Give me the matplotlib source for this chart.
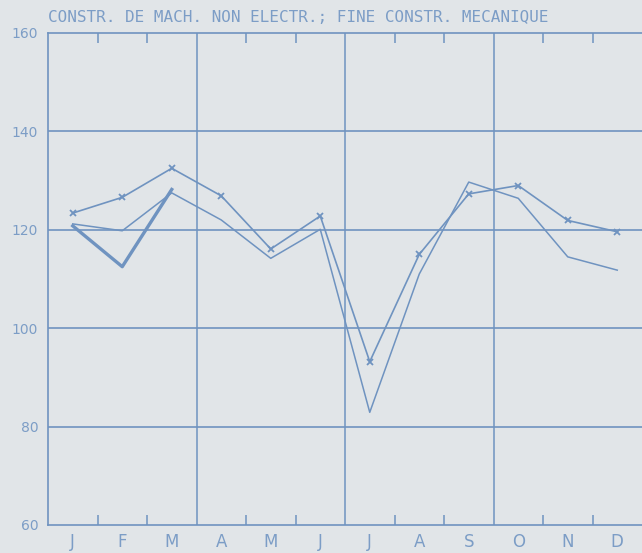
import matplotlib
matplotlib.use("Agg")
import matplotlib.pyplot as plt

months = ['J', 'F', 'M', 'A', 'M', 'J', 'J', 'A', 'S', 'O', 'N', 'D']
title = 'CONSTR. DE MACH. NON ELECTR.; FINE CONSTR. MECANIQUE'

# series
marked = [123.4, 126.6, 132.5, 126.9, 116.1, 122.8, 93.2, 115.0, 127.3, 129.0, 121.9, 119.6]
plain = [121.2, 119.8, 127.5, 122.0, 114.2, 120.1, 82.9, 111.0, 129.7, 126.4, 114.5, 111.8]
thick = [120.8, 112.5, 128.2]

y_ticks = [60, 80, 100, 120, 140, 160]

BG = '#e1e5e8'
BLUE = '#6f93c0'
TXT = '#7c9dc6'

fig = plt.figure(figsize=(6.42, 5.53), dpi=100, facecolor=BG)
ax = fig.add_axes([48/642, 28/553, 1 - 48/642, 492/553])
ax.set_facecolor(BG)

xs = [i + 0.5 for i in range(12)]
ax.plot(xs, plain, color=BLUE, lw=1.1, zorder=3)
ax.plot(xs, marked, color=BLUE, lw=1.2, marker='x', ms=5, mew=1.3, zorder=3)
ax.plot(xs[:3], thick, color=BLUE, lw=2.4, zorder=3)

# grid
for y in y_ticks[1:-1]:
    ax.axhline(y, color=BLUE, lw=1.2, zorder=1)
for q in [3, 6, 9]:
    ax.axvline(q, color=BLUE, lw=1.1, zorder=1)

ax.set_xlim(0, 12)
ax.set_ylim(60, 160)

for side in ['left', 'top', 'bottom']:
    ax.spines[side].set_color(BLUE)
    ax.spines[side].set_linewidth(1.2)
ax.spines['right'].set_visible(False)

# month boundary ticks, top and bottom
ax.set_xticks([i for i in range(1, 12) if i % 3 != 0])
ax.tick_params(axis='x', direction='in', length=7, width=1.1, color=BLUE,
               top=True, bottom=True, labelbottom=False)
ax.set_xticks(xs, minor=True)
ax.set_xticklabels(months, minor=True, fontsize=12, color=TXT)
ax.tick_params(axis='x', which='minor', length=0, pad=6)

ax.set_yticks(y_ticks)
ax.set_yticklabels([str(v) for v in y_ticks], fontsize=10, color=TXT)
ax.tick_params(axis='y', length=0, pad=7)

fig.text(48/642, 1 - 18/553, title, fontsize=11.5, color=TXT,
         family='DejaVu Sans Mono', va='center', ha='left')

fig.savefig('out.png', dpi=100, facecolor=BG)
